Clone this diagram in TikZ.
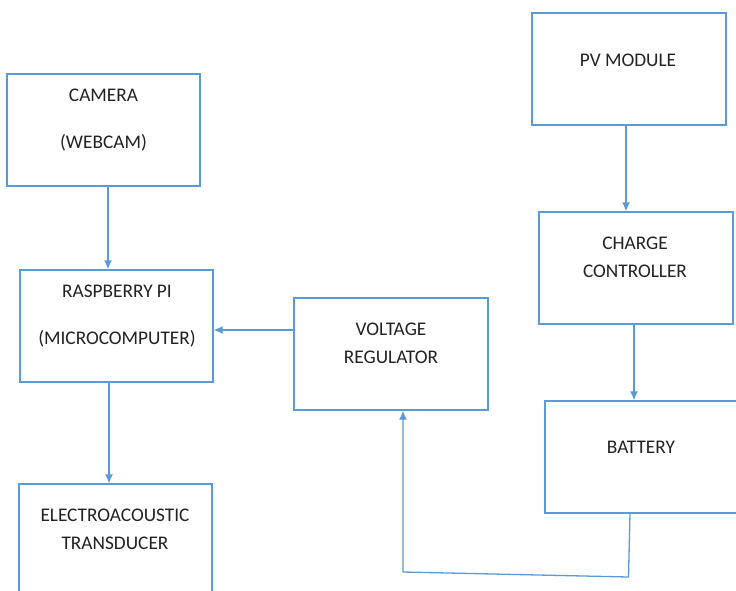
\documentclass[tikz,border=0pt]{standalone}
\usepackage{fontspec}
\setmainfont{Carlito}
\usetikzlibrary{arrows.meta}
\definecolor{ln}{HTML}{5B9BD5}
\definecolor{tx}{HTML}{222222}
\tikzset{
  box/.style={draw=ln, line width=1.3pt, minimum width=193pt, minimum height=112pt, inner sep=0pt},
  txt/.style={text=tx, font=\fontsize{19.3}{28}\selectfont, align=center, inner sep=0pt},
  wide/.style={font=\fontsize{19.3}{47}\selectfont},
  arr/.style={draw=ln, line width=1.3pt, -{Latex[length=9pt,width=8pt]}},
  con/.style={draw=ln, line width=1.3pt}
}
\begin{document}
\begin{tikzpicture}[x=1pt,y=-1pt]
\useasboundingbox (0,0) rectangle (736,590);
\clip (0,0) rectangle (736,590);
\fill[white] (0,0) rectangle (736,590);
% boxes
\node[box] (cam) at (103.5,130) {};
\node[box, minimum width=194pt] (pv) at (629,69) {};
\node[box, minimum width=194pt] (cc) at (636,268) {};
\node[box] (rpi) at (116.5,326) {};
\node[box, minimum width=194pt] (vr) at (391,354) {};
\node[box, minimum width=194pt] (bat) at (642,457) {};
\node[box] (tr) at (115.5,540) {};
% texts
\node[txt, wide] (camt) at (103.5,120.5) {CAMERA\\(WEBCAM)};
\node[txt] (pvt) at (628,60) {PV MODULE};
\node[txt] (cct) at (635,257) {CHARGE\\CONTROLLER};
\node[txt, wide] (rpit) at (117,316.5) {RASPBERRY PI\\(MICROCOMPUTER)};
\node[txt] (vrt) at (391,343) {VOLTAGE\\REGULATOR};
\node[txt] (batt) at (641,447) {BATTERY};
\node[txt] (trt) at (115,529) {ELECTROACOUSTIC\\TRANSDUCER};
% connectors
\draw[arr] ([xshift=4.5pt]cam.south) -- ([xshift=4.5pt]cam.south |- rpi.north);
\draw[arr] ([xshift=-7.5pt]rpi.south) -- ([xshift=-7.5pt]rpi.south |- tr.north);
\draw[arr] ([xshift=-3pt]pv.south) -- ([xshift=-3pt]pv.south |- cc.north);
\draw[arr] ([xshift=-2pt]cc.south) -- ([xshift=-2pt]cc.south |- bat.north);
\draw[arr] ([yshift=24pt]vr.west) -- ([yshift=24pt]vr.west -| rpi.east);
\coordinate (c1) at (628.5,577);
\coordinate (c2) at (403,572);
\draw[arr] ([xshift=-12pt]bat.south) -- (c1) -- (c2) -- (c2 |- vr.south);
\end{tikzpicture}
\end{document}
